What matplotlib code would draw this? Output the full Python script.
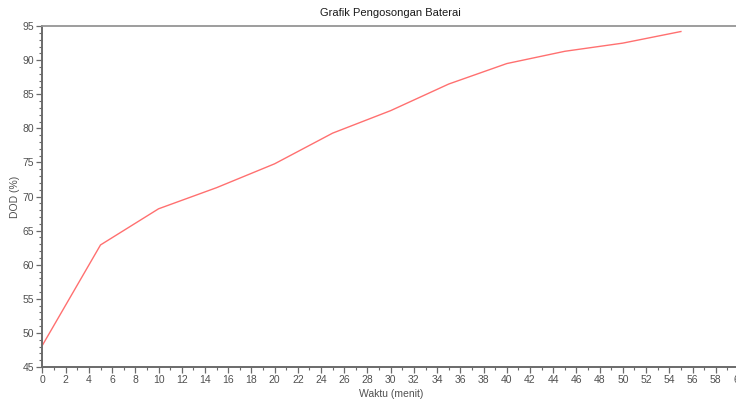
import numpy as np
import matplotlib
matplotlib.use('Agg')
import matplotlib.pyplot as plt
from matplotlib.ticker import MultipleLocator

plt.rcParams['font.family'] = ['Liberation Sans', 'DejaVu Sans']

# data
waktu = [0, 5, 10, 15, 20, 25, 30, 35, 40, 45, 50, 55]
dod = [48.2, 62.9, 68.2, 71.3, 74.8, 79.3, 82.6, 86.5, 89.5, 91.3, 92.5, 94.2]

axis_grey = '#6a6a6a'
label_grey = '#505050'

fig = plt.figure(figsize=(7.36, 4.01), dpi=100)
ax = fig.add_axes([0.0577, 0.0848, 1.004 - 0.0577, 0.935 - 0.0848])

ax.plot(waktu, dod, color='#ff7070', lw=1.0)

ax.set_xlim(0, 60)
ax.set_ylim(45, 95)
ax.xaxis.set_major_locator(MultipleLocator(2))
ax.xaxis.set_minor_locator(MultipleLocator(1))
ax.yaxis.set_major_locator(MultipleLocator(5))
ax.yaxis.set_minor_locator(MultipleLocator(1))

for side in ['left', 'bottom', 'right']:
    ax.spines[side].set_color(axis_grey)
    ax.spines[side].set_linewidth(1.4)
ax.spines['top'].set_color('#959595')
ax.spines['top'].set_linewidth(1.3)

ax.tick_params(which='major', direction='out', length=4, width=0.9,
               color=axis_grey, labelcolor=label_grey, labelsize=7.5, pad=2)
ax.tick_params(which='minor', direction='out', length=2, width=0.8, color=axis_grey)
ax.tick_params(top=False, right=False, which='both')

ax.set_title('Grafik Pengosongan Baterai', fontsize=8, color='#1a1a1a', pad=7)
ax.set_xlabel('Waktu (menit)', fontsize=7.5, color=label_grey, labelpad=3)
ax.set_ylabel('DOD (%)', fontsize=7.5, color=label_grey, labelpad=2)

fig.savefig('out.png', dpi=100)
